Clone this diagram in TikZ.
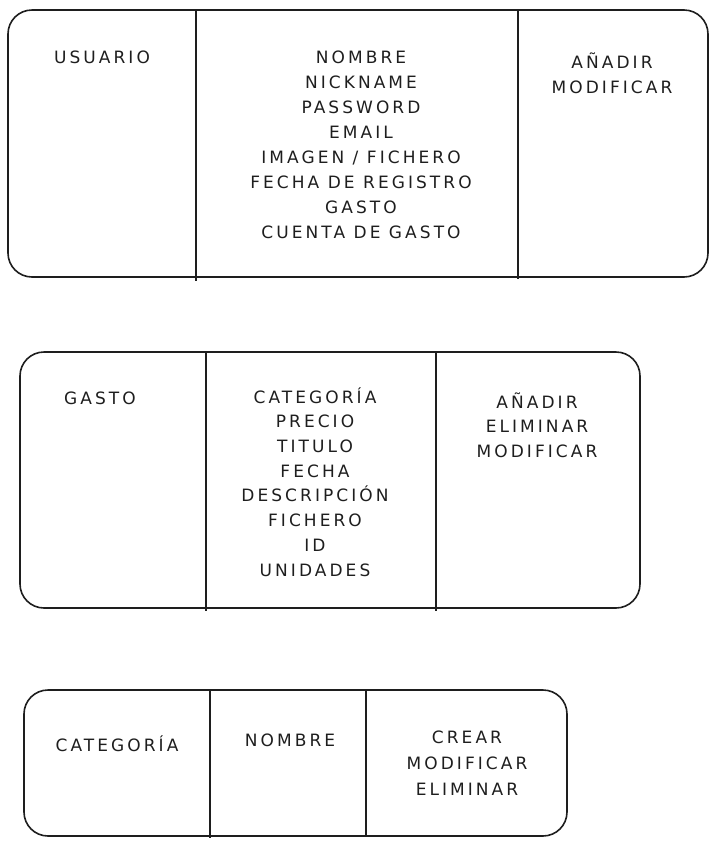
\documentclass[tikz,border=0pt]{standalone}
\usepackage{fontspec}
\setmainfont{DejaVu Sans}[LetterSpace=18]
\definecolor{ink}{HTML}{1E1E1E}
\begin{document}
\begin{tikzpicture}[x=1pt,y=-1pt,
  box/.style={draw=ink, line width=1.6pt, rounded corners=24pt, inner sep=0pt},
  div/.style={draw=ink, line width=1.7pt},
  lbl/.style={text=ink, inner sep=0pt, anchor=base, align=center},
  fa/.style={font={\fontsize{17pt}{25pt}\selectfont}},
  fb/.style={font={\fontsize{17pt}{24.7pt}\selectfont}},
  fc/.style={font={\fontsize{17pt}{26pt}\selectfont}}]
\useasboundingbox (0,0) rectangle (716,847);
% box 1
\node[box, minimum width=700pt, minimum height=267pt] (b1) at (358,143.5) {};
\draw[div] (196,10) -- (196,281);
\draw[div] (518,10) -- (518,279);
\node[lbl, fa] (usr) at (102,63) {USUARIO};
\node[lbl, fa] (usrattr) at (361,238) {NOMBRE\\NICKNAME\\PASSWORD\\EMAIL\\IMAGEN / FICHERO\\FECHA DE REGISTRO\\GASTO\\CUENTA DE GASTO};
\node[lbl, fa] (usrops) at (612,93) {AÑADIR\\MODIFICAR};
% box 2
\node[box, minimum width=620pt, minimum height=256pt] (b2) at (330,480) {};
\draw[div] (206,352) -- (206,611);
\draw[div] (436,352) -- (436,611);
\node[lbl, fb] (gst) at (100,404) {GASTO};
\node[lbl, fb] (gstattr) at (315,576) {CATEGORÍA\\PRECIO\\TITULO\\FECHA\\DESCRIPCIÓN\\FICHERO\\ID\\UNIDADES};
\node[lbl, fb] (gstops) at (537,457.5) {AÑADIR\\ELIMINAR\\MODIFICAR};
% box 3
\node[box, minimum width=543pt, minimum height=146pt] (b3) at (295.5,763) {};
\draw[div] (210,690) -- (210,838);
\draw[div] (366,689) -- (366,836);
\node[lbl, fc] (cat) at (117,751) {CATEGORÍA};
\node[lbl, fc] (catattr) at (290,746) {NOMBRE};
\node[lbl, fc] (catops) at (467,795) {CREAR\\MODIFICAR\\ELIMINAR};
\end{tikzpicture}
\end{document}
